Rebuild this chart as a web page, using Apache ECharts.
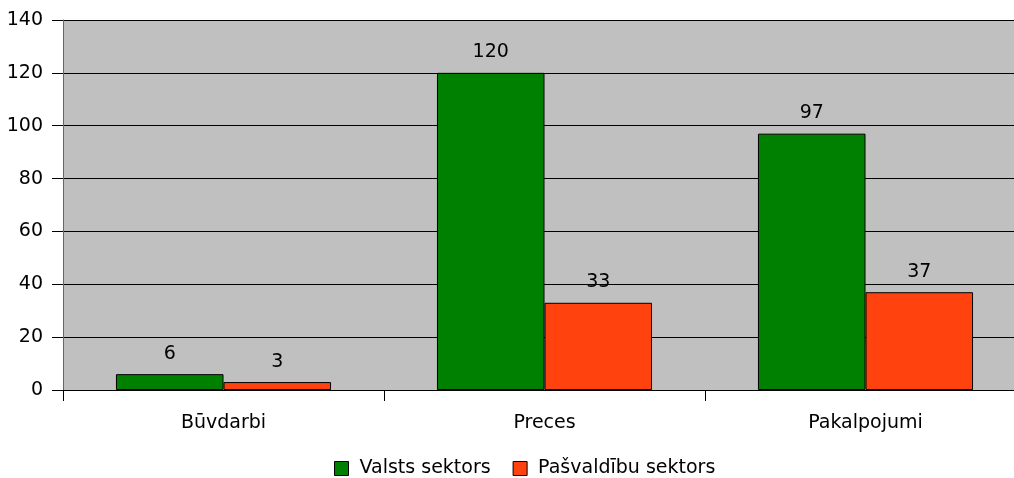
<!DOCTYPE html>
<html><head><meta charset="utf-8">
<script src="https://cdn.jsdelivr.net/npm/echarts@6/dist/echarts.min.js"></script>
<style>html,body{margin:0;padding:0;background:#fff}#c{width:1014px;height:478px}</style>
</head><body><div id="c"></div>
<script>
const categories = ['Būvdarbi', 'Preces', 'Pakalpojumi'];
const valsts = [6, 120, 97];
const pasvaldibu = [3, 33, 37];
const seriesNames = ['Valsts sektors', 'Pašvaldību sektors'];
const yTicks = {min: 0, max: 140, interval: 20};

const font = '"DejaVu Sans", "Liberation Sans", sans-serif';
const fs = 19;
const chart = echarts.init(document.getElementById('c'), null, {renderer: 'canvas'});
const labelCfg = {show: true, position: 'top', distance: 11, color: '#000', fontSize: fs, fontFamily: font};
chart.setOption({
  animation: false,
  backgroundColor: '#fff',
  textStyle: {fontFamily: font},
  grid: {left: 63, top: 20, width: 963, height: 370, show: true, backgroundColor: '#C0C0C0', borderWidth: 0,
         containLabel: false, outerBoundsMode: 'none'},
  legend: {
    left: 329, top: 454, itemWidth: 14, itemHeight: 14, itemGap: 22,
    icon: 'rect',
    itemStyle: {borderColor: '#000', borderWidth: 1},
    textStyle: {fontSize: fs, color: '#000', fontFamily: font, padding: [0, 0, 0, 6]},
    data: seriesNames
  },
  xAxis: {
    type: 'category', data: categories,
    axisLine: {show: true, lineStyle: {color: '#000', width: 1}},
    axisTick: {show: true, length: 11, lineStyle: {color: '#000'}},
    axisLabel: {fontSize: fs, color: '#000', margin: 24, fontFamily: font},
    splitLine: {show: false}
  },
  yAxis: {
    type: 'value', min: yTicks.min, max: yTicks.max, interval: yTicks.interval,
    axisLine: {show: true, lineStyle: {color: '#666', width: 1}},
    axisTick: {show: true, length: 11, lineStyle: {color: '#000'}},
    axisLabel: {fontSize: fs, color: '#000', margin: 20, fontFamily: font},
    splitLine: {show: true, lineStyle: {color: '#000', width: 1}}
  },
  series: [
    {name: seriesNames[0], type: 'bar', data: valsts, barGap: '0%', barCategoryGap: '33%',
     itemStyle: {color: '#008000', borderColor: '#000', borderWidth: 1}, label: labelCfg},
    {name: seriesNames[1], type: 'bar', data: pasvaldibu,
     itemStyle: {color: '#FF420E', borderColor: '#000', borderWidth: 1}, label: labelCfg}
  ]
});
</script></body></html>
